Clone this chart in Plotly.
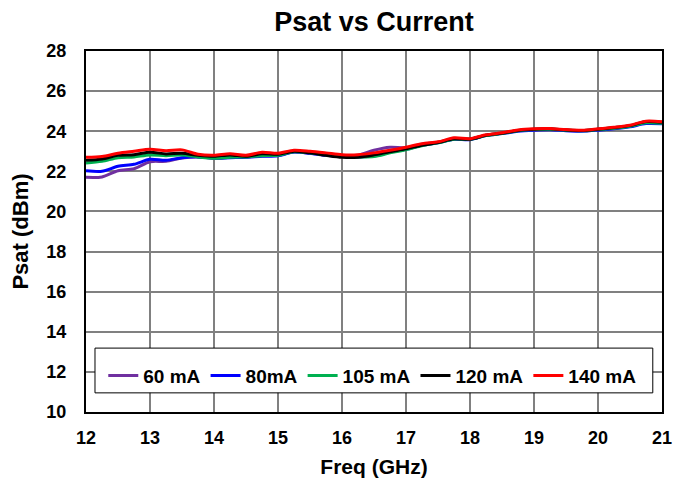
import plotly.graph_objects as go

freq = [12.0, 12.25, 12.5, 12.75, 13.0, 13.25, 13.5, 13.75, 14.0, 14.25, 14.5, 14.75,
        15.0, 15.25, 15.5, 15.75, 16.0, 16.25, 16.5, 16.75, 17.0, 17.25, 17.5, 17.75,
        18.0, 18.25, 18.5, 18.75, 19.0, 19.25, 19.5, 19.75, 20.0, 20.25, 20.5, 20.75, 21.0]

psat_60 = [21.70, 21.72, 22.03, 22.13, 22.48, 22.50, 22.67, 22.72, 22.65, 22.70, 22.72, 22.78,
           22.80, 22.96, 22.90, 22.80, 22.76, 22.80, 23.05, 23.20, 23.18, 23.35, 23.45, 23.62,
           23.60, 23.80, 23.90, 24.03, 24.08, 24.10, 24.05, 24.03, 24.08, 24.16, 24.26, 24.45, 24.42]
psat_80 = [22.03, 22.00, 22.25, 22.35, 22.60, 22.55, 22.68, 22.72, 22.65, 22.68, 22.70, 22.75,
           22.78, 22.96, 22.90, 22.80, 22.74, 22.72, 22.76, 22.95, 23.10, 23.30, 23.42, 23.60,
           23.58, 23.78, 23.88, 24.00, 24.05, 24.07, 24.02, 24.00, 24.05, 24.12, 24.22, 24.38, 24.37]
psat_105 = [22.42, 22.50, 22.68, 22.72, 22.82, 22.78, 22.82, 22.72, 22.65, 22.70, 22.72, 22.78,
            22.80, 22.98, 22.92, 22.82, 22.75, 22.72, 22.74, 22.92, 23.08, 23.28, 23.42, 23.60,
            23.60, 23.78, 23.88, 24.02, 24.08, 24.10, 24.05, 24.02, 24.08, 24.15, 24.25, 24.42, 24.40]
psat_120 = [22.55, 22.62, 22.80, 22.83, 22.95, 22.87, 22.90, 22.80, 22.75, 22.82, 22.75, 22.88,
            22.85, 23.00, 22.92, 22.80, 22.70, 22.70, 22.82, 22.98, 23.12, 23.30, 23.43, 23.62,
            23.60, 23.80, 23.90, 24.04, 24.10, 24.12, 24.06, 24.04, 24.10, 24.18, 24.28, 24.48, 24.45]
psat_140 = [22.70, 22.74, 22.90, 23.00, 23.10, 23.03, 23.07, 22.85, 22.80, 22.88, 22.80, 22.95,
            22.90, 23.05, 23.00, 22.92, 22.83, 22.83, 22.92, 23.05, 23.20, 23.38, 23.47, 23.67,
            23.63, 23.82, 23.92, 24.06, 24.12, 24.13, 24.08, 24.05, 24.12, 24.20, 24.30, 24.50, 24.47]

series_names = ["60 mA", "80mA", "105 mA", "120 mA", "140 mA"]
series_values = [psat_60, psat_80, psat_105, psat_120, psat_140]
series_colors = ["#7030A0", "#0000FF", "#00B050", "#000000", "#FF0000"]

x_ticks = list(range(12, 22))
y_ticks = list(range(10, 30, 2))

FONT = "Liberation Sans, Arial, sans-serif"

W, H = 678, 477
L, R, T, B = 78, 24, 43, 73

fig = go.Figure()
for name, vals, col in zip(series_names, series_values, series_colors):
    fig.add_trace(go.Scatter(x=freq, y=vals, mode="lines", name=name,
                             line=dict(color=col, width=3, shape="spline", smoothing=0.8)))

fig.update_layout(
    width=W, height=H,
    margin=dict(l=L, r=R, t=T, b=B, autoexpand=False),
    paper_bgcolor="white", plot_bgcolor="white",
    font=dict(family=FONT, color="black"),
    title=dict(text="<b>Psat vs Current</b>", x=0.5, xref="paper", y=1 - 14 / H,
               yref="container", xanchor="center", yanchor="middle",
               font=dict(size=27, family=FONT, color="black")),
    xaxis=dict(range=[12, 21], tickvals=x_ticks, showgrid=True, gridcolor="#808080", gridwidth=1.5,
               showline=True, linecolor="black", linewidth=2, mirror=True, ticks="",
               tickfont=dict(size=18, family=FONT, weight="bold"), ticklabelstandoff=8,
               title=dict(text="<b>Freq (GHz)</b>", font=dict(size=21, family=FONT), standoff=13),
               zeroline=False),
    yaxis=dict(range=[10, 28], tickvals=y_ticks, showgrid=True, gridcolor="#808080", gridwidth=1.5,
               showline=True, linecolor="black", linewidth=2, mirror=True, ticks="",
               tickfont=dict(size=18, family=FONT, weight="bold"), ticklabelstandoff=14,
               title=dict(text="<b>Psat (dBm)</b>", font=dict(size=22, family=FONT), standoff=12),
               zeroline=False),
    legend=dict(orientation="h", x=0.03, y=0.101, xanchor="left", yanchor="middle",
                bgcolor="rgba(0,0,0,0)", borderwidth=0,
                font=dict(size=19, family=FONT, weight="bold", color="black"),
                itemwidth=30),
    shapes=[dict(type="rect", xref="paper", yref="paper",
                 x0=0.0156, x1=0.984, y0=0.053, y1=0.177,
                 fillcolor="white", line=dict(color="black", width=1), layer="above")],
)

fig.write_html("out.html")
